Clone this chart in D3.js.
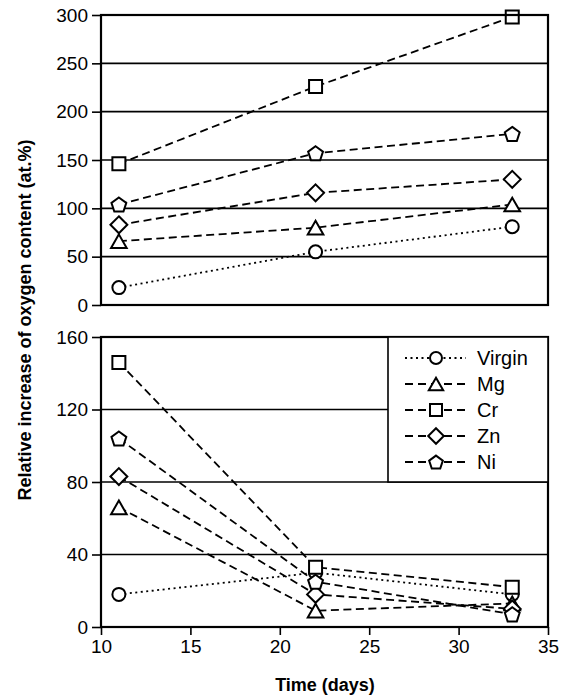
<!DOCTYPE html>
<html>
<head>
<meta charset="utf-8">
<script src="https://cdn.jsdelivr.net/npm/d3@7"></script>
<style>
body { margin: 0; background: #fff; }
text { font-family: "Liberation Sans", Arial, sans-serif; fill: #000; }
.tick text { font-size: 19px; }
.title { font-size: 18px; font-weight: bold; }
</style>
</head>
<body>
<svg></svg>
<script>
// days of measurement
var days = [11, 22, 33];
var seriesNames = ["Virgin", "Mg", "Cr", "Zn", "Ni"];
var seriesShapes = ["circle", "triangle", "square", "diamond", "pentagon"];

// upper panel: relative increase
var topVirgin = [18, 55, 81];
var topMg = [66, 80, 104];
var topCr = [146, 226, 298];
var topZn = [83, 116, 130];
var topNi = [104, 157, 177];

// lower panel
var botVirgin = [18, 30, 18];
var botMg = [66, 9, 13];
var botCr = [146, 33, 22];
var botZn = [83, 18, 10];
var botNi = [104, 25, 7];

var xTicks = [10, 15, 20, 25, 30, 35];
var topTicks = [0, 50, 100, 150, 200, 250, 300];
var botTicks = [0, 40, 80, 120, 160];

var screen = {width: 563, height: 697};
var plot = {left: 101, right: 548};
var topPanel = {top: 15, bottom: 305};
var botPanel = {top: 337, bottom: 627};

var svg = d3.select("svg")
    .attr("width", screen.width)
    .attr("height", screen.height);

var xScale = d3.scaleLinear().domain([10, 35]).range([plot.left, plot.right]);

// r is roughly the half width of the marker
var symbolFor = function(shape, r)
{
    if (shape == "circle") {
        return d3.symbol().type(d3.symbolCircle).size(Math.PI * r * r)();
    }
    if (shape == "square") {
        return d3.symbol().type(d3.symbolSquare).size(4 * r * r)();
    }
    if (shape == "diamond") {
        var d = r * 1.3;
        return "M0," + (-d) + "L" + d + ",0L0," + d + "L" + (-d) + ",0Z";
    }
    if (shape == "triangle") {
        var w = r * 1.2, h = r * 1.05;
        return "M0," + (-h) + "L" + w + "," + h + "L" + (-w) + "," + h + "Z";
    }
    // pentagon
    var rr = r * 1.2;
    var pts = d3.range(5).map(function(i) {
        var a = -Math.PI / 2 + i * 2 * Math.PI / 5;
        return [rr * Math.cos(a), rr * Math.sin(a) + 0.8];
    });
    return "M" + pts.join("L") + "Z";
};

var drawPanel = function(panel, yScale, ticks, data, showX)
{
    var g = svg.append("g");

    // grid
    g.selectAll("line.grid")
        .data(ticks)
        .enter()
        .append("line")
        .attr("x1", plot.left).attr("x2", plot.right)
        .attr("y1", function(d) { return yScale(d); })
        .attr("y2", function(d) { return yScale(d); })
        .attr("stroke", "#000").attr("stroke-width", 1.6);

    var yAxis = d3.axisLeft(yScale).tickValues(ticks).tickSize(9).tickPadding(4);
    g.append("g")
        .attr("transform", "translate(" + plot.left + ",0)")
        .call(yAxis)
        .call(function(a) { a.select(".domain").remove(); a.selectAll("line").attr("stroke-width", 1.6); });

    if (showX) {
        var xAxis = d3.axisBottom(xScale).tickValues(xTicks).tickSize(8).tickPadding(5);
        g.append("g")
            .attr("transform", "translate(0," + panel.bottom + ")")
            .call(xAxis)
            .call(function(a) { a.select(".domain").remove(); a.selectAll("line").attr("stroke-width", 1.6); });
    }

    var line = d3.line()
        .x(function(d, i) { return xScale(days[i]); })
        .y(function(d) { return yScale(d); });

    data.forEach(function(vals, k) {
        g.append("path")
            .attr("d", line(vals))
            .attr("fill", "none")
            .attr("stroke", "#000")
            .attr("stroke-width", 1.8)
            .attr("stroke-dasharray", k == 0 ? "2,3.5" : "8,4.5");
    });

    data.forEach(function(vals, k) {
        g.selectAll("path.m" + k)
            .data(vals)
            .enter()
            .append("path")
            .attr("d", symbolFor(seriesShapes[k], 6.5))
            .attr("transform", function(d, i) { return "translate(" + xScale(days[i]) + "," + yScale(d) + ")"; })
            .attr("fill", "#fff")
            .attr("stroke", "#000")
            .attr("stroke-width", 2);
    });

    g.append("rect")
        .attr("x", plot.left).attr("y", panel.top)
        .attr("width", plot.right - plot.left).attr("height", panel.bottom - panel.top)
        .attr("fill", "none").attr("stroke", "#000").attr("stroke-width", 2.2);
    return g;
};

var yTop = d3.scaleLinear().domain([0, 300]).range([topPanel.bottom, topPanel.top]);
var yBot = d3.scaleLinear().domain([0, 160]).range([botPanel.bottom, botPanel.top]);

drawPanel(topPanel, yTop, topTicks, [topVirgin, topMg, topCr, topZn, topNi], false);
drawPanel(botPanel, yBot, botTicks, [botVirgin, botMg, botCr, botZn, botNi], true);

// legend
var legend = svg.append("g");
legend.append("rect")
    .attr("x", 388).attr("y", botPanel.top)
    .attr("width", plot.right - 388).attr("height", 145)
    .attr("fill", "#fff").attr("stroke", "#000").attr("stroke-width", 1.6);

var entries = legend.selectAll("g")
    .data(seriesNames)
    .enter()
    .append("g")
    .attr("transform", function(d, i) { return "translate(0," + (358 + i * 26) + ")"; });

entries.append("line")
    .attr("x1", 405).attr("x2", 466)
    .attr("stroke", "#000").attr("stroke-width", 1.8)
    .attr("stroke-dasharray", function(d, i) { return i == 0 ? "2,3.5" : "8,5"; });

entries.append("path")
    .attr("d", function(d, i) { return symbolFor(seriesShapes[i], 6); })
    .attr("transform", "translate(436,0)")
    .attr("fill", "#fff").attr("stroke", "#000").attr("stroke-width", 2);

entries.append("text")
    .text(function(d) { return d; })
    .attr("x", 477).attr("y", 7)
    .style("font-size", "20px");

// labels
svg.append("text")
    .text("Time (days)")
    .classed("title", true)
    .attr("text-anchor", "middle")
    .attr("x", 325).attr("y", 691);

svg.append("g")
    .attr("transform", "translate(31,320)")
    .append("text")
    .text("Relative increase of oxygen content (at.%)")
    .classed("title", true)
    .attr("text-anchor", "middle")
    .attr("transform", "rotate(270)");
</script>
</body>
</html>
